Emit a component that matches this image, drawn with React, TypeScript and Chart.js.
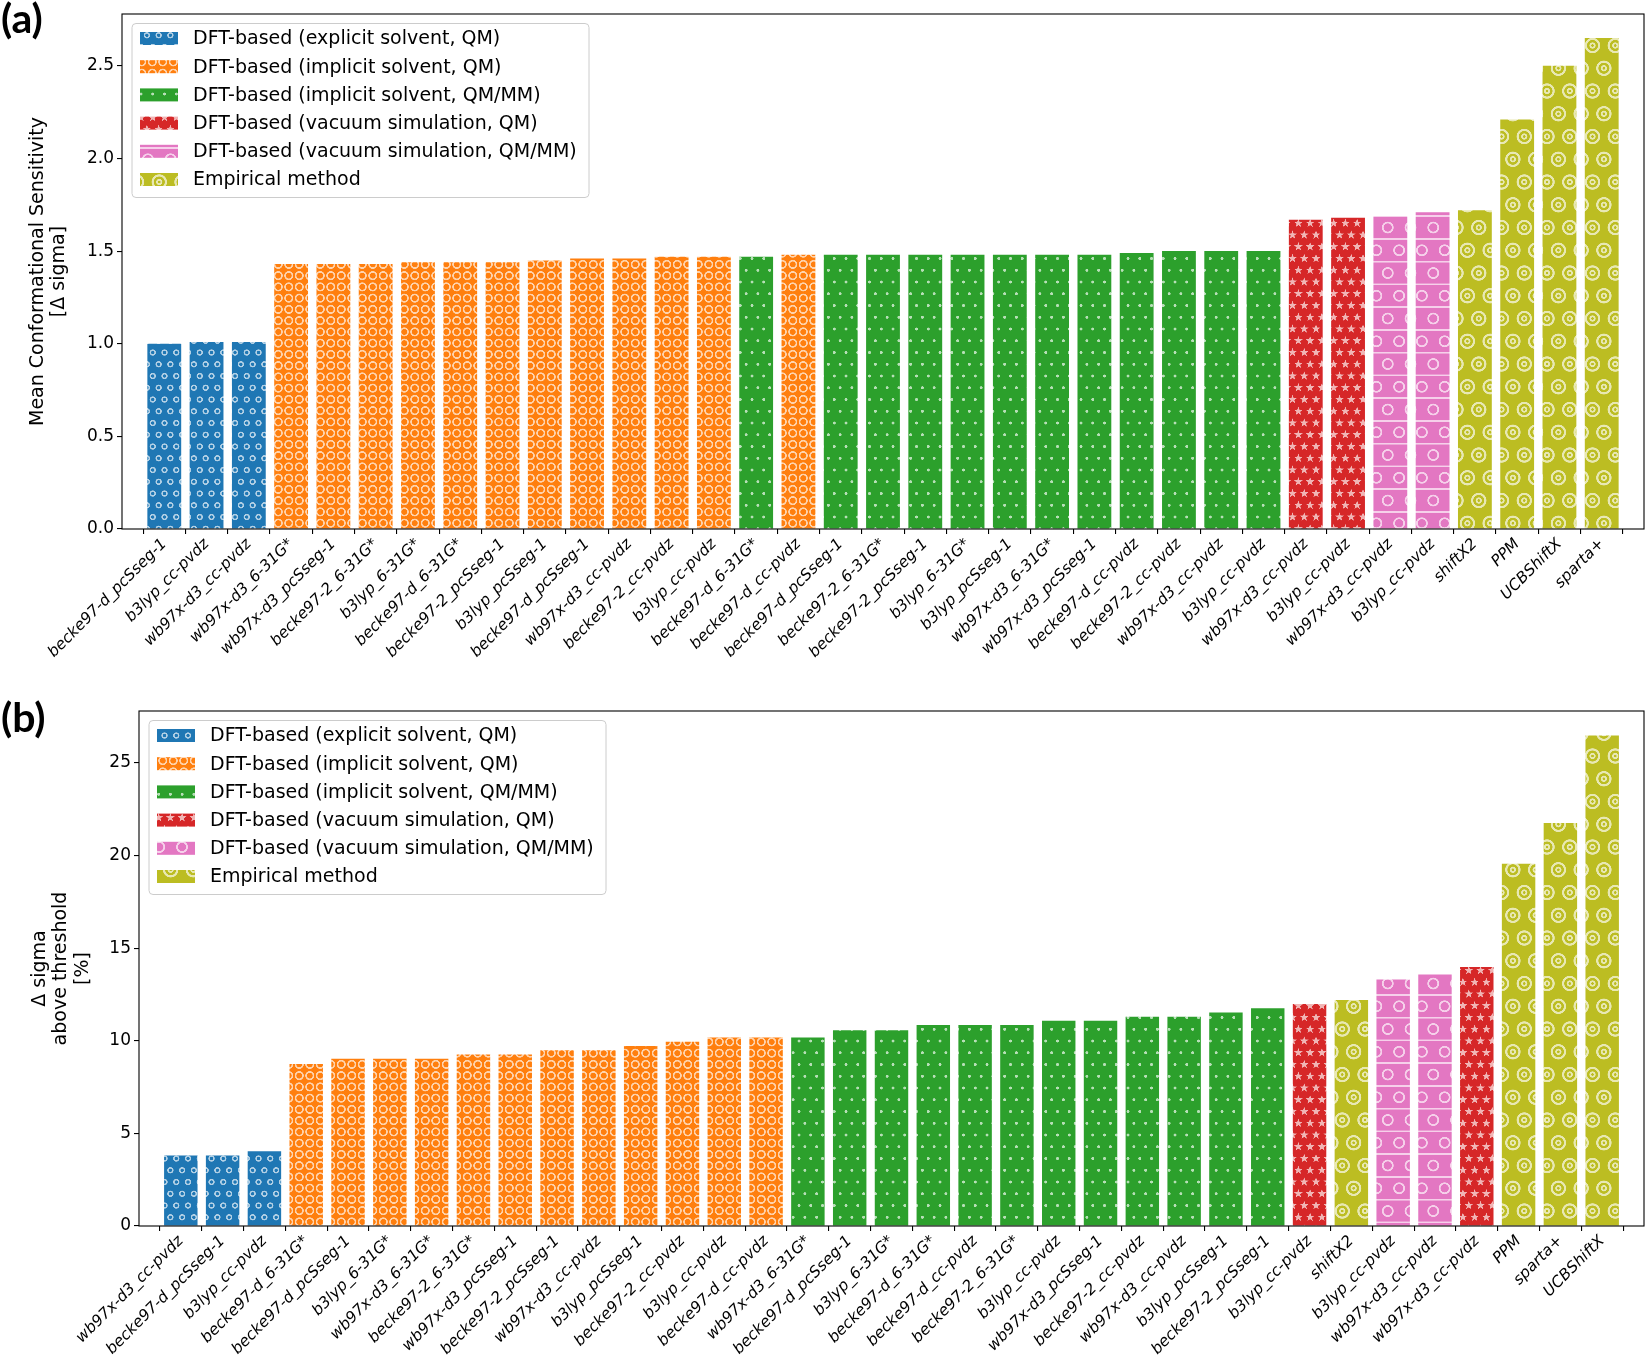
import React, { useEffect, useRef } from 'react';
import { Chart, registerables } from 'chart.js';

Chart.register(...registerables);

const groupNames = [
  'DFT-based (explicit solvent, QM)',
  'DFT-based (implicit solvent, QM)',
  'DFT-based (implicit solvent, QM/MM)',
  'DFT-based (vacuum simulation, QM)',
  'DFT-based (vacuum simulation, QM/MM)',
  'Empirical method',
];
const groupColors = ['#1f77b4', '#ff7f0e', '#2ca02c', '#d62728', '#e377c2', '#bcbd22'];

const labelsA = [
  'becke97-d_pcSseg-1', 'b3lyp_cc-pvdz', 'wb97x-d3_cc-pvdz', 'wb97x-d3_6-31G*', 'wb97x-d3_pcSseg-1',
  'becke97-2_6-31G*', 'b3lyp_6-31G*', 'becke97-d_6-31G*', 'becke97-2_pcSseg-1', 'b3lyp_pcSseg-1',
  'becke97-d_pcSseg-1', 'wb97x-d3_cc-pvdz', 'becke97-2_cc-pvdz', 'b3lyp_cc-pvdz', 'becke97-d_6-31G*',
  'becke97-d_cc-pvdz', 'becke97-d_pcSseg-1', 'becke97-2_6-31G*', 'becke97-2_pcSseg-1', 'b3lyp_6-31G*',
  'b3lyp_pcSseg-1', 'wb97x-d3_6-31G*', 'wb97x-d3_pcSseg-1', 'becke97-d_cc-pvdz', 'becke97-2_cc-pvdz',
  'wb97x-d3_cc-pvdz', 'b3lyp_cc-pvdz', 'wb97x-d3_cc-pvdz', 'b3lyp_cc-pvdz', 'wb97x-d3_cc-pvdz',
  'b3lyp_cc-pvdz', 'shiftX2', 'PPM', 'UCBShiftX', 'sparta+',
];
const valuesA = [
  1.0, 1.01, 1.01, 1.43, 1.43, 1.43, 1.44, 1.44, 1.44, 1.45,
  1.46, 1.46, 1.47, 1.47, 1.47, 1.48, 1.48, 1.48, 1.48, 1.48,
  1.48, 1.48, 1.48, 1.49, 1.5, 1.5, 1.5, 1.67, 1.68, 1.69,
  1.71, 1.72, 2.21, 2.5, 2.65,
];
const groupsA = [
  0, 0, 0, 1, 1, 1, 1, 1, 1, 1,
  1, 1, 1, 1, 2, 1, 2, 2, 2, 2,
  2, 2, 2, 2, 2, 2, 2, 3, 3, 4,
  4, 5, 5, 5, 5,
];
const yTicksA = [0, 0.5, 1.0, 1.5, 2.0, 2.5];
const yTitleA = ['Mean Conformational Sensitivity', '[Δ sigma]'];

const labelsB = [
  'wb97x-d3_cc-pvdz', 'becke97-d_pcSseg-1', 'b3lyp_cc-pvdz', 'becke97-d_6-31G*', 'becke97-d_pcSseg-1',
  'b3lyp_6-31G*', 'wb97x-d3_6-31G*', 'becke97-2_6-31G*', 'wb97x-d3_pcSseg-1', 'becke97-2_pcSseg-1',
  'wb97x-d3_cc-pvdz', 'b3lyp_pcSseg-1', 'becke97-2_cc-pvdz', 'b3lyp_cc-pvdz', 'becke97-d_cc-pvdz',
  'wb97x-d3_6-31G*', 'becke97-d_pcSseg-1', 'b3lyp_6-31G*', 'becke97-d_6-31G*', 'becke97-d_cc-pvdz',
  'becke97-2_6-31G*', 'b3lyp_cc-pvdz', 'wb97x-d3_pcSseg-1', 'becke97-2_cc-pvdz', 'wb97x-d3_cc-pvdz',
  'b3lyp_pcSseg-1', 'becke97-2_pcSseg-1', 'b3lyp_cc-pvdz', 'shiftX2', 'b3lyp_cc-pvdz',
  'wb97x-d3_cc-pvdz', 'wb97x-d3_cc-pvdz', 'PPM', 'sparta+', 'UCBShiftX',
];
const valuesB = [
  3.8, 3.8, 4.03, 8.75, 9.03, 9.03, 9.03, 9.26, 9.26, 9.49,
  9.49, 9.72, 9.94, 10.17, 10.17, 10.17, 10.57, 10.57, 10.85, 10.85,
  10.85, 11.08, 11.08, 11.3, 11.3, 11.53, 11.76, 11.99, 12.2, 13.3,
  13.58, 13.98, 19.55, 21.76, 26.48,
];
const groupsB = [
  0, 0, 0, 1, 1, 1, 1, 1, 1, 1,
  1, 1, 1, 1, 1, 2, 2, 2, 2, 2,
  2, 2, 2, 2, 2, 2, 2, 3, 5, 4,
  4, 3, 5, 5, 5,
];
const yTicksB = [0, 5, 10, 15, 20, 25];
const yTitleB = ['Δ sigma', 'above threshold', '[%]'];

const FONT = 'DejaVu Sans';
const LIGHT = 'rgba(255,255,255,0.66)';

function starPath(ctx: CanvasRenderingContext2D, cx: number, cy: number, R: number, r: number) {
  ctx.beginPath();
  for (let k = 0; k < 10; k++) {
    const ang = -Math.PI / 2 + (k * Math.PI) / 5;
    const rad = k % 2 === 0 ? R : r;
    const px = cx + rad * Math.cos(ang);
    const py = cy + rad * Math.sin(ang);
    if (k === 0) ctx.moveTo(px, py);
    else ctx.lineTo(px, py);
  }
  ctx.closePath();
}

function makePattern(group: number): CanvasPattern | string {
  const S = 4;
  const base = groupColors[group];
  let sx = 11.7, sy = 11.7, stagger = true;
  if (group === 1) { sx = 10.5; sy = 11.3; stagger = false; }
  if (group === 4 || group === 5) { sx = 22.7; sy = 22.7; }
  const tw = Math.round(sx * S);
  const th = Math.round((stagger ? 2 * sy : sy) * S);
  const c = document.createElement('canvas');
  c.width = tw;
  c.height = th;
  const ctx = c.getContext('2d');
  if (!ctx) return base;
  ctx.fillStyle = base;
  ctx.fillRect(0, 0, tw, th);
  const W = tw / S, H = th / S;
  const pts: [number, number][] = stagger
    ? [[0, 0], [W, 0], [0, H], [W, H], [W / 2, H / 2]]
    : [[W / 2, H / 2]];
  ctx.scale(S, S);
  ctx.strokeStyle = LIGHT;
  ctx.fillStyle = LIGHT;
  if (group === 4) {
    ctx.lineWidth = 1.7;
    for (const yy of [H / 4, (3 * H) / 4]) {
      ctx.beginPath();
      ctx.moveTo(0, yy);
      ctx.lineTo(W, yy);
      ctx.stroke();
    }
  }
  for (const [x, y] of pts) {
    if (group === 0) {
      ctx.lineWidth = 1.5;
      ctx.beginPath(); ctx.arc(x, y, 2.4, 0, Math.PI * 2); ctx.stroke();
    } else if (group === 1) {
      ctx.lineWidth = 1.6;
      ctx.beginPath(); ctx.arc(x, y, 3.7, 0, Math.PI * 2); ctx.stroke();
    } else if (group === 2) {
      ctx.beginPath(); ctx.arc(x, y, 1.5, 0, Math.PI * 2); ctx.fill();
    } else if (group === 3) {
      starPath(ctx, x, y, 4.6, 1.9); ctx.fill();
    } else if (group === 4) {
      ctx.lineWidth = 1.8;
      ctx.beginPath(); ctx.arc(x, y, 5.0, 0, Math.PI * 2); ctx.stroke();
    } else if (group === 5) {
      ctx.lineWidth = 2.2;
      ctx.beginPath(); ctx.arc(x, y, 6.6, 0, Math.PI * 2); ctx.stroke();
      ctx.lineWidth = 1.8;
      ctx.beginPath(); ctx.arc(x, y, 2.2, 0, Math.PI * 2); ctx.stroke();
    }
  }
  const main = document.createElement('canvas').getContext('2d');
  if (!main) return base;
  const pat = main.createPattern(c, 'repeat');
  if (!pat) return base;
  pat.setTransform(new DOMMatrix([1 / S, 0, 0, 1 / S, 0, 0]));
  return pat;
}

type PanelProps = {
  labels: string[];
  values: number[];
  groups: number[];
  yTicks: number[];
  yMax: number;
  yTitle: string[];
  decimals: number;
  height: number;
  padTop: number;
  xAxisHeight: number;
  yAxisWidth: number;
  titlePad: number;
  titleLineHeight: number;
};

function Panel(props: PanelProps) {
  const ref = useRef<HTMLCanvasElement | null>(null);
  useEffect(() => {
    const canvas = ref.current;
    if (!canvas) return;
    const patterns = groupColors.map((_, g) => makePattern(g));
    const { labels, values, groups, yTicks } = props;

    const framePlugin = {
      id: 'frame',
      afterDatasetsDraw(chart: any) {
        const { ctx, chartArea: a } = chart;
        ctx.save();
        ctx.strokeStyle = '#000';
        ctx.lineWidth = 1.1;
        ctx.strokeRect(a.left, a.top, a.right - a.left, a.bottom - a.top);
        ctx.restore();
      },
    };

    const legendPlugin = {
      id: 'innerLegend',
      afterDraw(chart: any) {
        const { ctx, chartArea: a } = chart;
        const x0 = a.left + 10;
        const y0 = a.top + 9.5;
        const w = 457;
        const h = 174;
        ctx.save();
        ctx.beginPath();
        const r = 4;
        ctx.moveTo(x0 + r, y0);
        ctx.lineTo(x0 + w - r, y0);
        ctx.arcTo(x0 + w, y0, x0 + w, y0 + r, r);
        ctx.lineTo(x0 + w, y0 + h - r);
        ctx.arcTo(x0 + w, y0 + h, x0 + w - r, y0 + h, r);
        ctx.lineTo(x0 + r, y0 + h);
        ctx.arcTo(x0, y0 + h, x0, y0 + h - r, r);
        ctx.lineTo(x0, y0 + r);
        ctx.arcTo(x0, y0, x0 + r, y0, r);
        ctx.closePath();
        ctx.fillStyle = 'rgba(255,255,255,0.8)';
        ctx.fill();
        ctx.strokeStyle = '#cccccc';
        ctx.lineWidth = 1;
        ctx.stroke();
        ctx.font = `19px "${FONT}"`;
        ctx.textBaseline = 'middle';
        ctx.textAlign = 'left';
        groupNames.forEach((name, i) => {
          const cy = y0 + 15 + i * 28.2;
          ctx.fillStyle = patterns[i] as any;
          ctx.fillRect(x0 + 8, cy - 6.5, 38, 13);
          ctx.fillStyle = '#000';
          ctx.fillText(name, x0 + 61, cy + 1);
        });
        ctx.restore();
      },
    };

    const tickGrid = {
      display: true,
      drawOnChartArea: false,
      drawTicks: true,
      tickLength: 5,
      color: '#000',
      lineWidth: 1.1,
    };

    const chart = new Chart(canvas, {
      type: 'bar',
      data: {
        datasets: [
          {
            data: values.map((v, i) => ({ x: i, y: v })),
            backgroundColor: groups.map((g) => patterns[g]) as any,
            borderWidth: 0,
            barPercentage: 0.8,
            categoryPercentage: 1,
          },
        ],
      },
      options: {
        animation: false,
        responsive: false,
        layout: { padding: { top: props.padTop, right: 6, left: 0, bottom: 0 } },
        plugins: { legend: { display: false }, tooltip: { enabled: false } },
        scales: {
          x: {
            type: 'linear',
            min: -1,
            max: 35,
            offset: false,
            afterBuildTicks: (s: any) => {
              s.ticks = labels.map((_, i) => ({ value: i }));
            },
            afterFit: (s: any) => {
              s.height = props.xAxisHeight;
            },
            ticks: {
              autoSkip: false,
              maxRotation: 45,
              minRotation: 45,
              padding: 1,
              color: '#000',
              font: { family: FONT, size: 15.5, style: 'italic' },
              callback: (v: any) => labels[Math.round(Number(v))] ?? '',
            },
            grid: tickGrid,
            border: { display: false },
          },
          y: {
            type: 'linear',
            min: 0,
            max: props.yMax,
            afterBuildTicks: (s: any) => {
              s.ticks = yTicks.map((v) => ({ value: v }));
            },
            afterFit: (s: any) => {
              s.width = props.yAxisWidth;
            },
            ticks: {
              color: '#000',
              padding: 3,
              font: { family: FONT, size: 17 },
              callback: (v: any) => Number(v).toFixed(props.decimals),
            },
            grid: tickGrid,
            border: { display: false },
            title: {
              display: true,
              text: props.yTitle,
              color: '#000',
              font: { family: FONT, size: 19, lineHeight: props.titleLineHeight },
              padding: { top: props.titlePad, bottom: 0 },
            },
          },
        },
      } as any,
      plugins: [framePlugin, legendPlugin],
    });
    return () => chart.destroy();
  }, []);
  return (
    <canvas
      ref={ref}
      width={1650}
      height={props.height}
      style={{ display: 'block', width: '1650px', height: `${props.height}px` }}
    />
  );
}

export default function App() {
  const letter: React.CSSProperties = {
    position: 'absolute',
    left: 1,
    fontFamily: 'Lato, "DejaVu Sans", sans-serif',
    fontWeight: 700,
    fontSize: '41px',
    lineHeight: '41px',
    color: '#000',
  };
  return (
    <div style={{ position: 'absolute', left: 0, top: 0, width: 1650, height: 1365, background: '#fff' }}>
      <div style={{ position: 'absolute', left: 0, top: 0 }}>
        <Panel
          labels={labelsA}
          values={valuesA}
          groups={groupsA}
          yTicks={yTicksA}
          yMax={2.78}
          yTitle={yTitleA}
          decimals={1}
          height={665}
          padTop={14}
          xAxisHeight={136}
          yAxisWidth={122}
          titlePad={27}
          titleLineHeight={1.12}
        />
      </div>
      <div style={{ position: 'absolute', left: 0, top: 665 }}>
        <Panel
          labels={labelsB}
          values={valuesB}
          groups={groupsB}
          yTicks={yTicksB}
          yMax={27.8}
          yTitle={yTitleB}
          decimals={0}
          height={700}
          padTop={46}
          xAxisHeight={139}
          yAxisWidth={139}
          titlePad={29}
          titleLineHeight={1.13}
        />
      </div>
      <div style={{ ...letter, top: -3 }}>(a)</div>
      <div style={{ ...letter, top: 696 }}>(b)</div>
    </div>
  );
}
